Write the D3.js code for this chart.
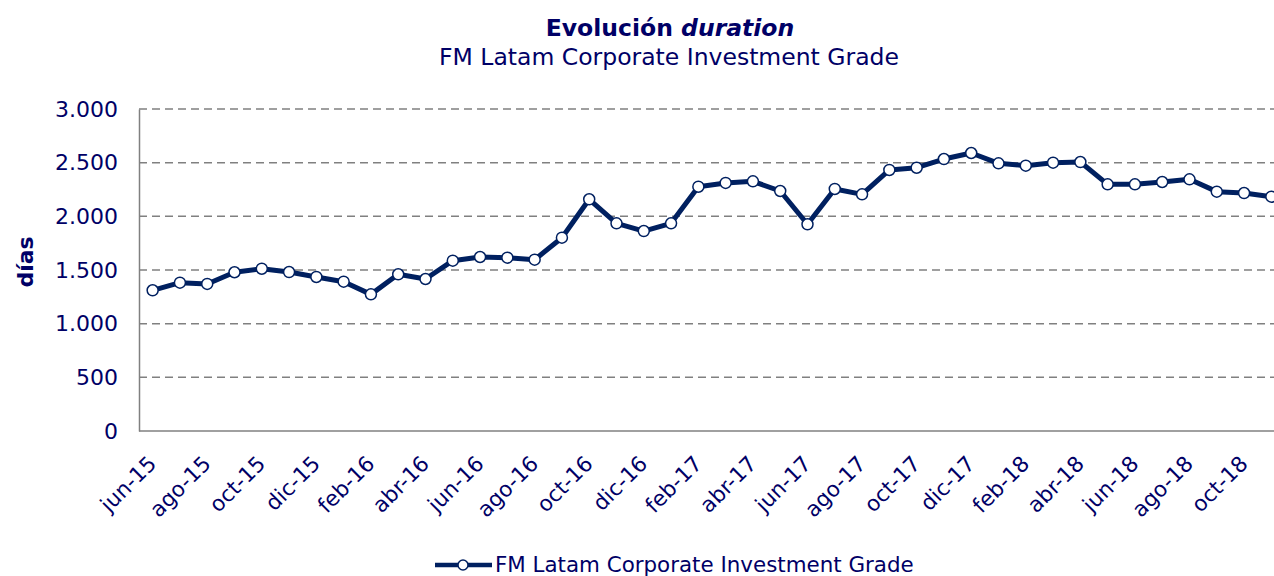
<!DOCTYPE html>
<html><head><meta charset="utf-8">
<script src="https://cdn.jsdelivr.net/npm/d3@7"></script>
<style>
html,body{margin:0;padding:0;background:#fff;}
svg{display:block;font-family:"DejaVu Sans",Verdana,sans-serif;}
</style></head>
<body><svg id="chart" width="1274" height="576"></svg>
<script>
const categories = ["jun-15","jul-15","ago-15","sep-15","oct-15","nov-15","dic-15","ene-16","feb-16","mar-16","abr-16","may-16",
"jun-16","jul-16","ago-16","sep-16","oct-16","nov-16","dic-16","ene-17","feb-17","mar-17","abr-17","may-17",
"jun-17","jul-17","ago-17","sep-17","oct-17","nov-17","dic-17","ene-18","feb-18","mar-18","abr-18","may-18",
"jun-18","jul-18","ago-18","sep-18","oct-18","nov-18"];
const durationValues = [1311,1382,1370,1479,1512,1481,1435,1391,1273,1460,1416,1587,
1621,1615,1596,1801,2159,1935,1863,1935,2276,2311,2326,2236,
1926,2255,2205,2432,2453,2534,2590,2494,2472,2500,2506,2298,
2298,2320,2345,2230,2217,2183];
const yTicks = [0,500,1000,1500,2000,2500,3000];
const seriesName = "FM Latam Corporate Investment Grade";

const textColor = "#000066", lineColor = "#002060", gridColor = "#808080";
const svg = d3.select("#chart");
const mLeft = 139, mRight = 1285, mTop = 109, mBottom = 431;

const x = d3.scaleBand().domain(categories).range([mLeft, mRight]);
const y = d3.scaleLinear().domain([0, 3000]).range([mBottom, mTop]);
const cx = d => x(d) + x.bandwidth() / 2;

// gridlines
svg.append("g").selectAll("line").data(yTicks.filter(t => t > 0)).join("line")
  .attr("x1", mLeft).attr("x2", mRight)
  .attr("y1", d => y(d)).attr("y2", d => y(d))
  .attr("stroke", gridColor).attr("stroke-width", 1.5).attr("stroke-dasharray", "8,5");

// y axis
const yAxis = svg.append("g").attr("transform", `translate(${mLeft},0)`)
  .call(d3.axisLeft(y).tickValues(yTicks).tickSize(0).tickPadding(21)
    .tickFormat(d => d3.format(",")(d).replace(/,/g, ".")));
yAxis.select(".domain").attr("stroke", gridColor).attr("stroke-width", 1.5);
yAxis.selectAll("text").attr("fill", textColor).style("font-size", "22px").style("font-family", "DejaVu Sans");

// x axis
const xAxis = svg.append("g").attr("transform", `translate(0,${mBottom})`)
  .call(d3.axisBottom(x).tickValues(categories.filter((c, i) => i % 2 === 0)).tickSize(0));
xAxis.select(".domain").attr("stroke", gridColor).attr("stroke-width", 1.5).attr("d", `M${mLeft},0H${mRight}`);
xAxis.selectAll("text").attr("fill", textColor).style("font-size", "21.5px").style("font-family", "DejaVu Sans")
  .attr("text-anchor", "end").attr("dy", null).attr("y", 0)
  .attr("transform", "translate(5,34) rotate(-45)");

// line
svg.append("path").datum(durationValues)
  .attr("fill", "none").attr("stroke", lineColor).attr("stroke-width", 5).attr("stroke-linejoin", "round")
  .attr("d", d3.line().x((d, i) => cx(categories[i])).y(d => y(d)));
svg.append("g").selectAll("circle").data(durationValues).join("circle")
  .attr("cx", (d, i) => cx(categories[i])).attr("cy", d => y(d)).attr("r", 5.5)
  .attr("fill", "#fff").attr("stroke", lineColor).attr("stroke-width", 1.5);

// titles
const t = svg.append("text").attr("x", 670).attr("y", 35.5).attr("text-anchor", "middle")
  .attr("fill", textColor).style("font-size", "23.5px").style("font-weight", "bold");
t.append("tspan").text("Evolución ");
t.append("tspan").style("font-style", "italic").text("duration");
svg.append("text").attr("x", 669).attr("y", 65).attr("text-anchor", "middle")
  .attr("fill", textColor).style("font-size", "23.5px").text(seriesName);

// y axis title
svg.append("text").attr("transform", "translate(33,262) rotate(-90)").attr("text-anchor", "middle")
  .attr("fill", textColor).style("font-size", "22px").style("font-weight", "bold").text("días");

// legend
const lg = svg.append("g");
lg.append("line").attr("x1", 435).attr("x2", 492).attr("y1", 565).attr("y2", 565)
  .attr("stroke", lineColor).attr("stroke-width", 4.5);
lg.append("circle").attr("cx", 463).attr("cy", 565).attr("r", 5)
  .attr("fill", "#fff").attr("stroke", lineColor).attr("stroke-width", 1.5);
lg.append("text").attr("x", 495).attr("y", 571.5).attr("fill", textColor).style("font-size", "21.4px").text(seriesName);
</script></body></html>
